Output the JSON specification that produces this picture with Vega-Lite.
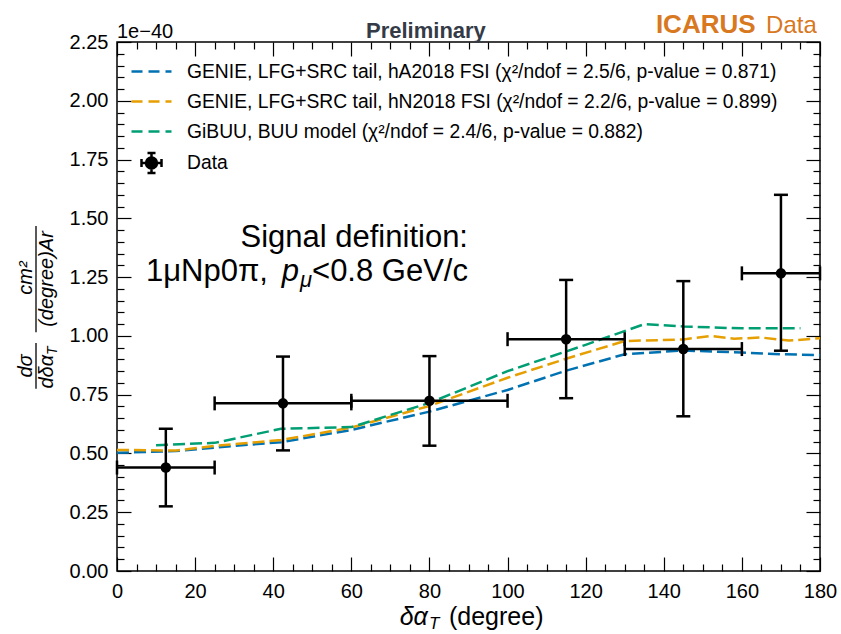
{
"$schema": "https://vega.github.io/schema/vega-lite/v6.json",
"width": 703, "height": 529,
"autosize": {"type": "none"},
"padding": {"left": 117, "top": 42, "right": 21, "bottom": 63},
"background": "white",
"config": {
  "font": "Liberation Sans",
  "view": {"stroke": "black", "strokeWidth": 1.5},
  "axis": {"grid": false, "domain": false, "tickColor": "black", "tickWidth": 1.2, "labelColor": "black", "labelFont": "Liberation Sans", "labelFontSize": 20, "labelFlush": false, "labelOverlap": false}
},
"datasets": {
  "models": [
    {"model": "GENIE, LFG+SRC tail, hA2018 FSI (χ²/ndof = 2.5/6, p-value = 0.871)", "x": 0, "y": 0.503},
    {"model": "GENIE, LFG+SRC tail, hA2018 FSI (χ²/ndof = 2.5/6, p-value = 0.871)", "x": 15, "y": 0.51},
    {"model": "GENIE, LFG+SRC tail, hA2018 FSI (χ²/ndof = 2.5/6, p-value = 0.871)", "x": 25, "y": 0.525},
    {"model": "GENIE, LFG+SRC tail, hA2018 FSI (χ²/ndof = 2.5/6, p-value = 0.871)", "x": 42, "y": 0.548},
    {"model": "GENIE, LFG+SRC tail, hA2018 FSI (χ²/ndof = 2.5/6, p-value = 0.871)", "x": 60, "y": 0.6},
    {"model": "GENIE, LFG+SRC tail, hA2018 FSI (χ²/ndof = 2.5/6, p-value = 0.871)", "x": 80, "y": 0.678},
    {"model": "GENIE, LFG+SRC tail, hA2018 FSI (χ²/ndof = 2.5/6, p-value = 0.871)", "x": 100, "y": 0.77},
    {"model": "GENIE, LFG+SRC tail, hA2018 FSI (χ²/ndof = 2.5/6, p-value = 0.871)", "x": 115, "y": 0.852},
    {"model": "GENIE, LFG+SRC tail, hA2018 FSI (χ²/ndof = 2.5/6, p-value = 0.871)", "x": 130, "y": 0.922},
    {"model": "GENIE, LFG+SRC tail, hA2018 FSI (χ²/ndof = 2.5/6, p-value = 0.871)", "x": 145, "y": 0.938},
    {"model": "GENIE, LFG+SRC tail, hA2018 FSI (χ²/ndof = 2.5/6, p-value = 0.871)", "x": 160, "y": 0.929},
    {"model": "GENIE, LFG+SRC tail, hA2018 FSI (χ²/ndof = 2.5/6, p-value = 0.871)", "x": 170, "y": 0.922},
    {"model": "GENIE, LFG+SRC tail, hA2018 FSI (χ²/ndof = 2.5/6, p-value = 0.871)", "x": 180, "y": 0.918},
    {"model": "GENIE, LFG+SRC tail, hN2018 FSI (χ²/ndof = 2.2/6, p-value = 0.899)", "x": 0, "y": 0.515},
    {"model": "GENIE, LFG+SRC tail, hN2018 FSI (χ²/ndof = 2.2/6, p-value = 0.899)", "x": 15, "y": 0.512},
    {"model": "GENIE, LFG+SRC tail, hN2018 FSI (χ²/ndof = 2.2/6, p-value = 0.899)", "x": 25, "y": 0.532},
    {"model": "GENIE, LFG+SRC tail, hN2018 FSI (χ²/ndof = 2.2/6, p-value = 0.899)", "x": 42, "y": 0.557},
    {"model": "GENIE, LFG+SRC tail, hN2018 FSI (χ²/ndof = 2.2/6, p-value = 0.899)", "x": 60, "y": 0.61},
    {"model": "GENIE, LFG+SRC tail, hN2018 FSI (χ²/ndof = 2.2/6, p-value = 0.899)", "x": 80, "y": 0.702},
    {"model": "GENIE, LFG+SRC tail, hN2018 FSI (χ²/ndof = 2.2/6, p-value = 0.899)", "x": 100, "y": 0.822},
    {"model": "GENIE, LFG+SRC tail, hN2018 FSI (χ²/ndof = 2.2/6, p-value = 0.899)", "x": 115, "y": 0.903},
    {"model": "GENIE, LFG+SRC tail, hN2018 FSI (χ²/ndof = 2.2/6, p-value = 0.899)", "x": 130, "y": 0.978},
    {"model": "GENIE, LFG+SRC tail, hN2018 FSI (χ²/ndof = 2.2/6, p-value = 0.899)", "x": 145, "y": 0.985},
    {"model": "GENIE, LFG+SRC tail, hN2018 FSI (χ²/ndof = 2.2/6, p-value = 0.899)", "x": 152, "y": 1.0},
    {"model": "GENIE, LFG+SRC tail, hN2018 FSI (χ²/ndof = 2.2/6, p-value = 0.899)", "x": 158, "y": 0.988},
    {"model": "GENIE, LFG+SRC tail, hN2018 FSI (χ²/ndof = 2.2/6, p-value = 0.899)", "x": 165, "y": 0.993},
    {"model": "GENIE, LFG+SRC tail, hN2018 FSI (χ²/ndof = 2.2/6, p-value = 0.899)", "x": 172, "y": 0.98},
    {"model": "GENIE, LFG+SRC tail, hN2018 FSI (χ²/ndof = 2.2/6, p-value = 0.899)", "x": 180, "y": 0.99},
    {"model": "GiBUU, BUU model (χ²/ndof = 2.4/6, p-value = 0.882)", "x": 10, "y": 0.535},
    {"model": "GiBUU, BUU model (χ²/ndof = 2.4/6, p-value = 0.882)", "x": 25, "y": 0.545},
    {"model": "GiBUU, BUU model (χ²/ndof = 2.4/6, p-value = 0.882)", "x": 42, "y": 0.605},
    {"model": "GiBUU, BUU model (χ²/ndof = 2.4/6, p-value = 0.882)", "x": 60, "y": 0.612},
    {"model": "GiBUU, BUU model (χ²/ndof = 2.4/6, p-value = 0.882)", "x": 80, "y": 0.715},
    {"model": "GiBUU, BUU model (χ²/ndof = 2.4/6, p-value = 0.882)", "x": 100, "y": 0.85},
    {"model": "GiBUU, BUU model (χ²/ndof = 2.4/6, p-value = 0.882)", "x": 120, "y": 0.962},
    {"model": "GiBUU, BUU model (χ²/ndof = 2.4/6, p-value = 0.882)", "x": 135, "y": 1.05},
    {"model": "GiBUU, BUU model (χ²/ndof = 2.4/6, p-value = 0.882)", "x": 145, "y": 1.04},
    {"model": "GiBUU, BUU model (χ²/ndof = 2.4/6, p-value = 0.882)", "x": 160, "y": 1.032},
    {"model": "GiBUU, BUU model (χ²/ndof = 2.4/6, p-value = 0.882)", "x": 175, "y": 1.032}
  ],
  "meas": [
    {"kind": "Data", "x": 12.5, "xlo": 0, "xhi": 25, "y": 0.44, "ylo": 0.275, "yhi": 0.605},
    {"kind": "Data", "x": 42.5, "xlo": 25, "xhi": 60, "y": 0.713, "ylo": 0.513, "yhi": 0.912},
    {"kind": "Data", "x": 80, "xlo": 60, "xhi": 100, "y": 0.724, "ylo": 0.533, "yhi": 0.914},
    {"kind": "Data", "x": 115, "xlo": 100, "xhi": 130, "y": 0.986, "ylo": 0.735, "yhi": 1.238},
    {"kind": "Data", "x": 145, "xlo": 130, "xhi": 160, "y": 0.944, "ylo": 0.658, "yhi": 1.233},
    {"kind": "Data", "x": 170, "xlo": 160, "xhi": 180, "y": 1.266, "ylo": 0.937, "yhi": 1.6}
  ]
},
"resolve": {"scale": {"x": "shared", "y": "shared"}, "axis": {"x": "independent", "y": "independent"}},
"layer": [
  {"data": {"name": "models"},
   "mark": {"type": "line", "strokeDash": [12, 5], "strokeWidth": 2.5},
   "encoding": {
     "x": {"field": "x", "type": "quantitative", "scale": {"domain": [0, 180], "nice": false, "zero": false},
           "axis": {"orient": "bottom", "values": [0, 20, 40, 60, 80, 100, 120, 140, 160, 180], "ticks": false, "tickSize": 0, "labelPadding": 10, "title": null}},
     "y": {"field": "y", "type": "quantitative", "scale": {"domain": [0, 2.25], "nice": false, "zero": false},
           "axis": {"orient": "left", "values": [0, 0.25, 0.5, 0.75, 1, 1.25, 1.5, 1.75, 2, 2.25], "format": ".2f", "ticks": false, "tickSize": 0, "labelPadding": 9, "title": null}},
     "color": {"field": "model", "type": "nominal",
       "scale": {"domain": ["GENIE, LFG+SRC tail, hA2018 FSI (χ²/ndof = 2.5/6, p-value = 0.871)", "GENIE, LFG+SRC tail, hN2018 FSI (χ²/ndof = 2.2/6, p-value = 0.899)", "GiBUU, BUU model (χ²/ndof = 2.4/6, p-value = 0.882)"], "range": ["#0072B2", "#E69F00", "#009E73"]},
       "legend": {"orient": "none", "legendX": 23, "legendY": 18, "title": null, "symbolType": "M-2,0L2,0", "symbolSize": 400, "symbolStrokeWidth": 2.5, "symbolDash": [11, 6], "labelFontSize": 19.3, "labelFont": "Liberation Sans", "labelColor": "black", "labelOffset": 24, "rowPadding": 8, "padding": 0, "labelLimit": 1000}}
   }},
  {"data": {"name": "meas"},
   "mark": {"type": "rule", "strokeWidth": 2.5, "color": "black"},
   "encoding": {
     "x": {"field": "xlo", "type": "quantitative", "scale": {"domain": [0, 180], "nice": false, "zero": false},
           "axis": {"orient": "bottom", "values": [0, 20, 40, 60, 80, 100, 120, 140, 160, 180], "labels": false, "tickSize": -14, "title": null}},
     "x2": {"field": "xhi"},
     "y": {"field": "y", "type": "quantitative", "scale": {"domain": [0, 2.25], "nice": false, "zero": false},
           "axis": {"orient": "left", "values": [0, 0.25, 0.5, 0.75, 1, 1.25, 1.5, 1.75, 2, 2.25], "labels": false, "tickSize": -14, "title": null}}
   }},
  {"data": {"name": "meas"},
   "mark": {"type": "rule", "strokeWidth": 2.5, "color": "black"},
   "encoding": {
     "x": {"field": "x", "type": "quantitative", "scale": {"domain": [0, 180], "nice": false, "zero": false},
           "axis": {"orient": "bottom", "values": [5, 10, 15, 25, 30, 35, 45, 50, 55, 65, 70, 75, 85, 90, 95, 105, 110, 115, 125, 130, 135, 145, 150, 155, 165, 170, 175], "labels": false, "tickSize": -7, "title": null}},
     "y": {"field": "ylo", "type": "quantitative", "scale": {"domain": [0, 2.25], "nice": false, "zero": false},
           "axis": {"orient": "left", "values": [0.05, 0.1, 0.15, 0.2, 0.3, 0.35, 0.4, 0.45, 0.55, 0.6, 0.65, 0.7, 0.8, 0.85, 0.9, 0.95, 1.05, 1.1, 1.15, 1.2, 1.3, 1.35, 1.4, 1.45, 1.55, 1.6, 1.65, 1.7, 1.8, 1.85, 1.9, 1.95, 2.05, 2.1, 2.15, 2.2], "labels": false, "tickSize": -7, "title": null}},
     "y2": {"field": "yhi"}
   }},
  {"data": {"name": "meas"},
   "mark": {"type": "tick", "orient": "horizontal", "size": 14, "thickness": 2.5, "color": "black", "opacity": 1},
   "encoding": {
     "x": {"field": "x", "type": "quantitative", "scale": {"domain": [0, 180], "nice": false, "zero": false},
           "axis": {"orient": "top", "values": [0, 20, 40, 60, 80, 100, 120, 140, 160, 180], "labels": false, "tickSize": -14, "title": null}},
     "y": {"field": "yhi", "type": "quantitative", "scale": {"domain": [0, 2.25], "nice": false, "zero": false},
           "axis": {"orient": "right", "values": [0, 0.25, 0.5, 0.75, 1, 1.25, 1.5, 1.75, 2, 2.25], "labels": false, "tickSize": -14, "title": null}}
   }},
  {"data": {"name": "meas"},
   "mark": {"type": "tick", "orient": "horizontal", "size": 14, "thickness": 2.5, "color": "black", "opacity": 1},
   "encoding": {
     "x": {"field": "x", "type": "quantitative", "scale": {"domain": [0, 180], "nice": false, "zero": false},
           "axis": {"orient": "top", "values": [5, 10, 15, 25, 30, 35, 45, 50, 55, 65, 70, 75, 85, 90, 95, 105, 110, 115, 125, 130, 135, 145, 150, 155, 165, 170, 175], "labels": false, "tickSize": -7, "title": null}},
     "y": {"field": "ylo", "type": "quantitative", "scale": {"domain": [0, 2.25], "nice": false, "zero": false},
           "axis": {"orient": "right", "values": [0.05, 0.1, 0.15, 0.2, 0.3, 0.35, 0.4, 0.45, 0.55, 0.6, 0.65, 0.7, 0.8, 0.85, 0.9, 0.95, 1.05, 1.1, 1.15, 1.2, 1.3, 1.35, 1.4, 1.45, 1.55, 1.6, 1.65, 1.7, 1.8, 1.85, 1.9, 1.95, 2.05, 2.1, 2.15, 2.2], "labels": false, "tickSize": -7, "title": null}}
   }},
  {"data": {"name": "meas"},
   "mark": {"type": "tick", "orient": "vertical", "size": 14, "thickness": 2.5, "color": "black", "opacity": 1},
   "encoding": {
     "x": {"field": "xlo", "type": "quantitative", "scale": {"domain": [0, 180], "nice": false, "zero": false}, "axis": null},
     "y": {"field": "y", "type": "quantitative", "scale": {"domain": [0, 2.25], "nice": false, "zero": false}, "axis": null}
   }},
  {"data": {"name": "meas"},
   "mark": {"type": "tick", "orient": "vertical", "size": 14, "thickness": 2.5, "color": "black", "opacity": 1},
   "encoding": {
     "x": {"field": "xhi", "type": "quantitative", "scale": {"domain": [0, 180], "nice": false, "zero": false}, "axis": null},
     "y": {"field": "y", "type": "quantitative", "scale": {"domain": [0, 2.25], "nice": false, "zero": false}, "axis": null}
   }},
  {"data": {"name": "meas"},
   "mark": {"type": "circle", "size": 110, "color": "black", "opacity": 1},
   "encoding": {
     "x": {"field": "x", "type": "quantitative", "scale": {"domain": [0, 180], "nice": false, "zero": false}, "axis": null},
     "y": {"field": "y", "type": "quantitative", "scale": {"domain": [0, 2.25], "nice": false, "zero": false}, "axis": null}
   }},
  {"data": {"name": "meas"},
   "transform": [{"filter": "false"}],
   "mark": {"type": "point", "filled": false, "color": "black", "strokeWidth": 2.5, "opacity": 1},
   "encoding": {
     "x": {"field": "x", "type": "quantitative", "scale": {"domain": [0, 180], "nice": false, "zero": false}, "axis": null},
     "y": {"field": "y", "type": "quantitative", "scale": {"domain": [0, 2.25], "nice": false, "zero": false}, "axis": null},
     "shape": {"field": "kind", "type": "nominal",
       "scale": {"domain": ["Data"], "range": ["M-1,0L1,0M0,-1L0,1M-1,-0.4L-1,0.4M1,-0.4L1,0.4M-0.4,-1L0.4,-1M-0.4,1L0.4,1M0.55,0A0.55,0.55,0,1,1,-0.55,0A0.55,0.55,0,1,1,0.55,0ZM0.32,0A0.32,0.32,0,1,1,-0.32,0A0.32,0.32,0,1,1,0.32,0ZM0.1,0A0.1,0.1,0,1,1,-0.1,0A0.1,0.1,0,1,1,0.1,0Z"]},
       "legend": {"orient": "none", "legendX": 23, "legendY": 109.5, "title": null, "symbolSize": 400, "symbolStrokeWidth": 2.5, "symbolStrokeColor": "black", "symbolOpacity": 1, "labelFontSize": 19.3, "labelFont": "Liberation Sans", "labelColor": "black", "labelOffset": 24, "padding": 0, "labelLimit": 1000}}
   }},
  {"data": {"values": [{}]},
   "mark": {"type": "text", "text": "1e−40", "align": "left", "baseline": "alphabetic", "fontSize": 20, "color": "black"},
   "encoding": {"x": {"datum": 0, "type": "quantitative", "scale": {"domain": [0, 180], "nice": false, "zero": false}, "axis": null}, "y": {"datum": 2.267, "type": "quantitative", "scale": {"domain": [0, 2.25], "nice": false, "zero": false}, "axis": null}}},
  {"data": {"values": [{}]},
   "mark": {"type": "text", "text": "Preliminary", "align": "center", "baseline": "alphabetic", "fontSize": 22, "fontWeight": "bold", "color": "#343B47"},
   "encoding": {"x": {"datum": 79.1, "type": "quantitative", "scale": {"domain": [0, 180], "nice": false, "zero": false}, "axis": null}, "y": {"datum": 2.267, "type": "quantitative", "scale": {"domain": [0, 2.25], "nice": false, "zero": false}, "axis": null}}},
  {"data": {"values": [{}]},
   "mark": {"type": "text", "text": "ICARUS", "align": "right", "baseline": "alphabetic", "fontSize": 26, "fontWeight": "bold", "color": "#D8781F"},
   "encoding": {"x": {"datum": 163.5, "type": "quantitative", "scale": {"domain": [0, 180], "nice": false, "zero": false}, "axis": null}, "y": {"datum": 2.288, "type": "quantitative", "scale": {"domain": [0, 2.25], "nice": false, "zero": false}, "axis": null}}},
  {"data": {"values": [{}]},
   "mark": {"type": "text", "text": "Data", "align": "left", "baseline": "alphabetic", "fontSize": 24, "color": "#D8781F"},
   "encoding": {"x": {"datum": 166.2, "type": "quantitative", "scale": {"domain": [0, 180], "nice": false, "zero": false}, "axis": null}, "y": {"datum": 2.288, "type": "quantitative", "scale": {"domain": [0, 2.25], "nice": false, "zero": false}, "axis": null}}},
  {"data": {"values": [{}]},
   "mark": {"type": "text", "text": "Signal definition:", "align": "right", "baseline": "alphabetic", "fontSize": 31, "color": "black"},
   "encoding": {"x": {"datum": 89.87, "type": "quantitative", "scale": {"domain": [0, 180], "nice": false, "zero": false}, "axis": null}, "y": {"datum": 1.378, "type": "quantitative", "scale": {"domain": [0, 2.25], "nice": false, "zero": false}, "axis": null}}},
  {"data": {"values": [{}]},
   "mark": {"type": "text", "text": "<0.8 GeV/c", "align": "right", "baseline": "alphabetic", "fontSize": 31, "color": "black"},
   "encoding": {"x": {"datum": 89.87, "type": "quantitative", "scale": {"domain": [0, 180], "nice": false, "zero": false}, "axis": null}, "y": {"datum": 1.2335, "type": "quantitative", "scale": {"domain": [0, 2.25], "nice": false, "zero": false}, "axis": null}}},
  {"data": {"values": [{}]},
   "mark": {"type": "text", "text": "μ", "align": "right", "baseline": "alphabetic", "fontSize": 22, "fontStyle": "italic", "dx": -156, "dy": 6, "color": "black"},
   "encoding": {"x": {"datum": 89.87, "type": "quantitative", "scale": {"domain": [0, 180], "nice": false, "zero": false}, "axis": null}, "y": {"datum": 1.2335, "type": "quantitative", "scale": {"domain": [0, 2.25], "nice": false, "zero": false}, "axis": null}}},
  {"data": {"values": [{}]},
   "mark": {"type": "text", "text": "p", "align": "right", "baseline": "alphabetic", "fontSize": 31, "fontStyle": "italic", "dx": -169, "color": "black"},
   "encoding": {"x": {"datum": 89.87, "type": "quantitative", "scale": {"domain": [0, 180], "nice": false, "zero": false}, "axis": null}, "y": {"datum": 1.2335, "type": "quantitative", "scale": {"domain": [0, 2.25], "nice": false, "zero": false}, "axis": null}}},
  {"data": {"values": [{}]},
   "mark": {"type": "text", "text": "1μNp0π,", "align": "right", "baseline": "alphabetic", "fontSize": 31, "dx": -200, "color": "black"},
   "encoding": {"x": {"datum": 89.87, "type": "quantitative", "scale": {"domain": [0, 180], "nice": false, "zero": false}, "axis": null}, "y": {"datum": 1.2335, "type": "quantitative", "scale": {"domain": [0, 2.25], "nice": false, "zero": false}, "axis": null}}},
  {"data": {"values": [{}]},
   "mark": {"type": "text", "text": "δα", "align": "right", "baseline": "alphabetic", "fontSize": 25, "fontStyle": "italic", "color": "black"},
   "encoding": {"x": {"datum": 79.6, "type": "quantitative", "scale": {"domain": [0, 180], "nice": false, "zero": false}, "axis": null}, "y": {"datum": -0.228, "type": "quantitative", "scale": {"domain": [0, 2.25], "nice": false, "zero": false}, "axis": null}}},
  {"data": {"values": [{}]},
   "mark": {"type": "text", "text": "T", "align": "left", "baseline": "alphabetic", "fontSize": 17, "fontStyle": "italic", "color": "black"},
   "encoding": {"x": {"datum": 79.9, "type": "quantitative", "scale": {"domain": [0, 180], "nice": false, "zero": false}, "axis": null}, "y": {"datum": -0.248, "type": "quantitative", "scale": {"domain": [0, 2.25], "nice": false, "zero": false}, "axis": null}}},
  {"data": {"values": [{}]},
   "mark": {"type": "text", "text": "(degree)", "align": "left", "baseline": "alphabetic", "fontSize": 25, "color": "black"},
   "encoding": {"x": {"datum": 85.0, "type": "quantitative", "scale": {"domain": [0, 180], "nice": false, "zero": false}, "axis": null}, "y": {"datum": -0.228, "type": "quantitative", "scale": {"domain": [0, 2.25], "nice": false, "zero": false}, "axis": null}}},
  {"data": {"values": [{}]},
   "mark": {"type": "text", "text": "dσ", "angle": 270, "align": "center", "baseline": "alphabetic", "fontSize": 20, "fontStyle": "italic", "color": "black"},
   "encoding": {"x": {"datum": -21.8, "type": "quantitative", "scale": {"domain": [0, 180], "nice": false, "zero": false}, "axis": null}, "y": {"datum": 0.872, "type": "quantitative", "scale": {"domain": [0, 2.25], "nice": false, "zero": false}, "axis": null}}},
  {"data": {"values": [{}]},
   "mark": {"type": "text", "text": "dδα", "angle": 270, "align": "right", "baseline": "alphabetic", "fontSize": 20, "fontStyle": "italic", "color": "black"},
   "encoding": {"x": {"datum": -16.4, "type": "quantitative", "scale": {"domain": [0, 180], "nice": false, "zero": false}, "axis": null}, "y": {"datum": 0.919, "type": "quantitative", "scale": {"domain": [0, 2.25], "nice": false, "zero": false}, "axis": null}}},
  {"data": {"values": [{}]},
   "mark": {"type": "text", "text": "T", "angle": 270, "align": "left", "baseline": "alphabetic", "fontSize": 14, "fontStyle": "italic", "color": "black"},
   "encoding": {"x": {"datum": -15.4, "type": "quantitative", "scale": {"domain": [0, 180], "nice": false, "zero": false}, "axis": null}, "y": {"datum": 0.919, "type": "quantitative", "scale": {"domain": [0, 2.25], "nice": false, "zero": false}, "axis": null}}},
  {"data": {"values": [{}]},
   "mark": {"type": "text", "text": "cm²", "angle": 270, "align": "center", "baseline": "alphabetic", "fontSize": 20, "fontStyle": "italic", "color": "black"},
   "encoding": {"x": {"datum": -21.8, "type": "quantitative", "scale": {"domain": [0, 180], "nice": false, "zero": false}, "axis": null}, "y": {"datum": 1.246, "type": "quantitative", "scale": {"domain": [0, 2.25], "nice": false, "zero": false}, "axis": null}}},
  {"data": {"values": [{}]},
   "mark": {"type": "text", "text": "(degree)Ar", "angle": 270, "align": "center", "baseline": "alphabetic", "fontSize": 20, "fontStyle": "italic", "color": "black"},
   "encoding": {"x": {"datum": -16.4, "type": "quantitative", "scale": {"domain": [0, 180], "nice": false, "zero": false}, "axis": null}, "y": {"datum": 1.242, "type": "quantitative", "scale": {"domain": [0, 2.25], "nice": false, "zero": false}, "axis": null}}},
  {"data": {"values": [{}]},
   "mark": {"type": "rule", "strokeWidth": 1.3, "color": "black"},
   "encoding": {"x": {"datum": -20.74, "type": "quantitative", "scale": {"domain": [0, 180], "nice": false, "zero": false}, "axis": null}, "y": {"datum": 0.775, "type": "quantitative", "scale": {"domain": [0, 2.25], "nice": false, "zero": false}, "axis": null}, "y2": {"datum": 0.97}}},
  {"data": {"values": [{}]},
   "mark": {"type": "rule", "strokeWidth": 1.3, "color": "black"},
   "encoding": {"x": {"datum": -20.74, "type": "quantitative", "scale": {"domain": [0, 180], "nice": false, "zero": false}, "axis": null}, "y": {"datum": 1.015, "type": "quantitative", "scale": {"domain": [0, 2.25], "nice": false, "zero": false}, "axis": null}, "y2": {"datum": 1.467}}}
]
}
